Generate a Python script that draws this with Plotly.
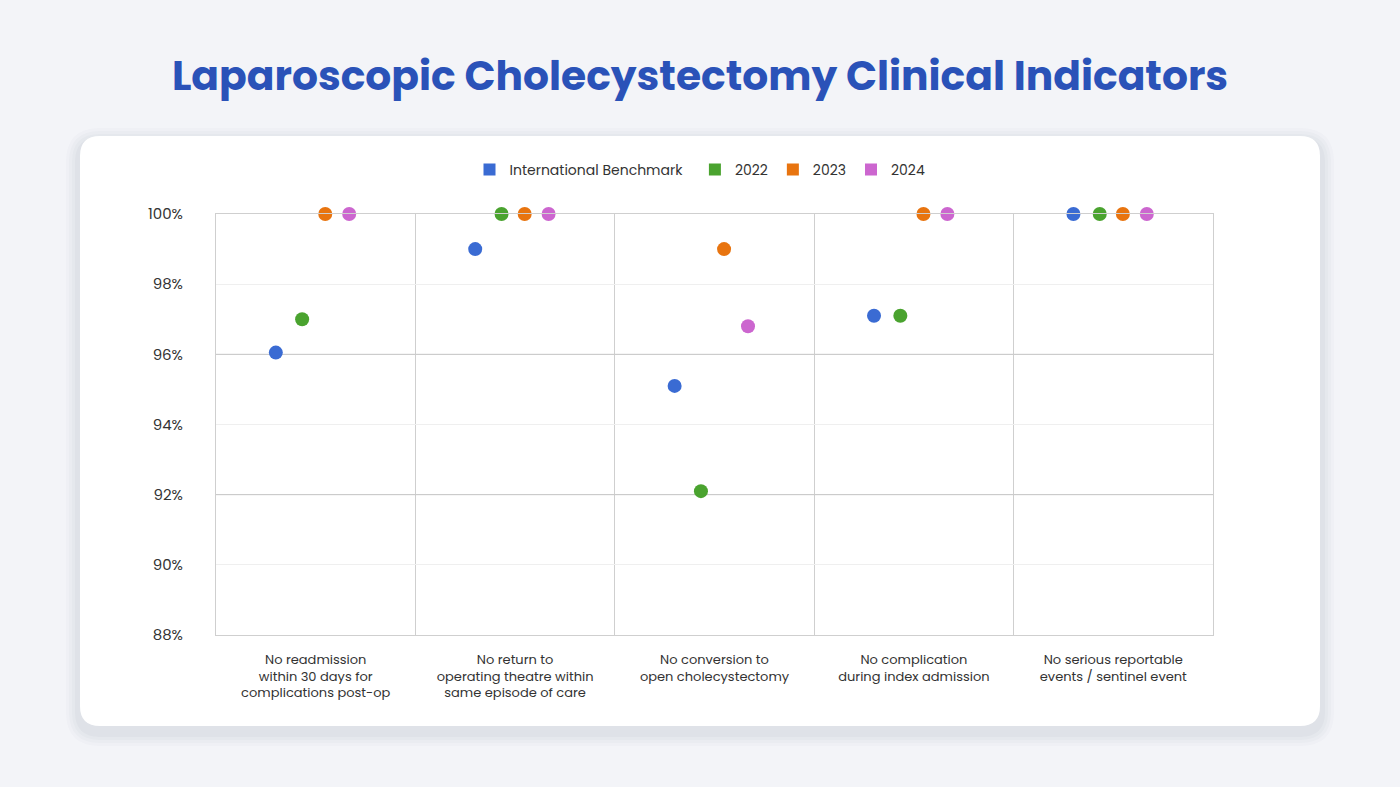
import plotly.graph_objects as go

# chart data
categories = [
    "No readmission<br>within 30 days for<br>complications post-op",
    "No return to<br>operating theatre within<br>same episode of care",
    "No conversion to<br>open cholecystectomy",
    "No complication<br>during index admission",
    "No serious reportable<br>events / sentinel event",
]
series_names = ["International Benchmark", "2022", "2023", "2024"]
benchmark = [96.05, 99.0, 95.1, 97.1, 100.0]
y2022 = [97.0, 100.0, 92.1, 97.1, 100.0]
y2023 = [100.0, 100.0, 99.0, 100.0, 100.0]
y2024 = [100.0, 100.0, 96.8, 100.0, 100.0]
y_ticks = [88, 90, 92, 94, 96, 98, 100]
y_labels = [f"{v}%" for v in y_ticks]

colors = ["#3a6bd3", "#4aa32f", "#e8740f", "#cc66cf"]
offsets = [-0.2, -0.068, 0.048, 0.168]

W, H = 1400, 787
FONT = "Poppins, Inter, Noto Sans, sans-serif"

# plot area in pixels
px_l, px_r, px_t, px_b = 216, 1213, 214, 635


def fx(p):
    return p / W


def fy(p):
    return 1 - p / H


def rounded_rect(x0, y0, x1, y1, r):
    # path in paper coords from pixel box
    rx, ry = r / W, r / H
    a, b, c, d = fx(x0), fy(y1), fx(x1), fy(y0)
    return (f"M {a + rx},{b} L {c - rx},{b} Q {c},{b} {c},{b + ry} "
            f"L {c},{d - ry} Q {c},{d} {c - rx},{d} L {a + rx},{d} "
            f"Q {a},{d} {a},{d - ry} L {a},{b + ry} Q {a},{b} {a + rx},{b} Z")


fig = go.Figure()

all_series = [benchmark, y2022, y2023, y2024]
for k, (name, vals, col, off) in enumerate(zip(series_names, all_series, colors, offsets)):
    fig.add_trace(go.Scatter(
        x=[i + 0.5 + off for i in range(len(categories))], y=vals,
        mode="markers", name=name, showlegend=False,
        marker=dict(size=14, color=col, line=dict(width=0)),
        cliponaxis=False,
        hovertemplate=name + ": %{y:.1f}%<extra></extra>",
    ))
    # legend entry with square swatch
    label = name + ("\u00a0\u00a0" if k == 0 else "")
    fig.add_trace(go.Scatter(
        x=[None], y=[None], mode="markers", name=label,
        marker=dict(size=14, color=col, symbol="square"),
    ))

shapes = []
# card shadow
for i, op in enumerate([0.02, 0.025, 0.025, 0.03]):
    g = 14 - i * 3
    shapes.append(dict(type="path", xref="paper", yref="paper", layer="below",
                       path=rounded_rect(80 - g, 136 - g + 6, 1320 + g, 726 + g + 6, 20 + g),
                       fillcolor=f"rgba(60,70,100,{op})", line=dict(width=0)))
shapes.append(dict(type="path", xref="paper", yref="paper", layer="below",
                   path=rounded_rect(80, 136, 1320, 726, 20),
                   fillcolor="white", line=dict(width=0)))
# darker gridlines
for yv in [92, 96]:
    shapes.append(dict(type="line", xref="x", yref="y", layer="between",
                       x0=0, x1=len(categories), y0=yv, y1=yv,
                       line=dict(color="#c4c4c4", width=1)))

fig.update_layout(
    width=W, height=H, autosize=False,
    margin=dict(l=0, r=0, t=0, b=0, pad=0, autoexpand=False),
    paper_bgcolor="#f3f4f8",
    plot_bgcolor="white",
    font=dict(family=FONT, color="#333333", size=13),
    title=dict(text="<b>Laparoscopic Cholecystectomy Clinical Indicators</b>",
               x=0.5, xanchor="center", y=fy(76), yanchor="middle",
               font=dict(size=40.8, color="#2a52b8", family=FONT)),
    shapes=shapes,
    showlegend=True,
    legend=dict(orientation="h", x=0.5, xanchor="center", y=fy(170), yanchor="middle",
                font=dict(size=14, color="#333333"), bgcolor="rgba(0,0,0,0)",
                itemsizing="constant"),
    xaxis=dict(domain=[fx(px_l), fx(px_r)], range=[0, len(categories)],
               tickmode="array", tickvals=[i + 0.5 for i in range(len(categories))],
               ticktext=categories, showgrid=False, zeroline=False, automargin=False,
               showline=True, mirror=True, linecolor="#cfcfcf", linewidth=1,
               ticks="", ticklabelstandoff=12,
               tickfont=dict(size=13, color="#333333"),
               minor=dict(tickmode="linear", tick0=0, dtick=1, showgrid=True,
                          gridcolor="#cfcfcf", gridwidth=1, ticks="")),
    yaxis=dict(domain=[fy(px_b), fy(px_t)], range=[88, 100],
               tickmode="array", tickvals=y_ticks, ticktext=y_labels, automargin=False,
               showgrid=True, gridcolor="#efefef", zeroline=False,
               showline=True, mirror=True, linecolor="#cfcfcf", linewidth=1,
               ticks="", ticklabelstandoff=29,
               tickfont=dict(size=15, color="#333333")),
)

fig.write_html("out.html", config={"displayModeBar": False},
               post_script="document.body.style.margin='0';"
                           "document.body.style.overflow='hidden';"
                           "document.body.style.background='#f3f4f8';")
